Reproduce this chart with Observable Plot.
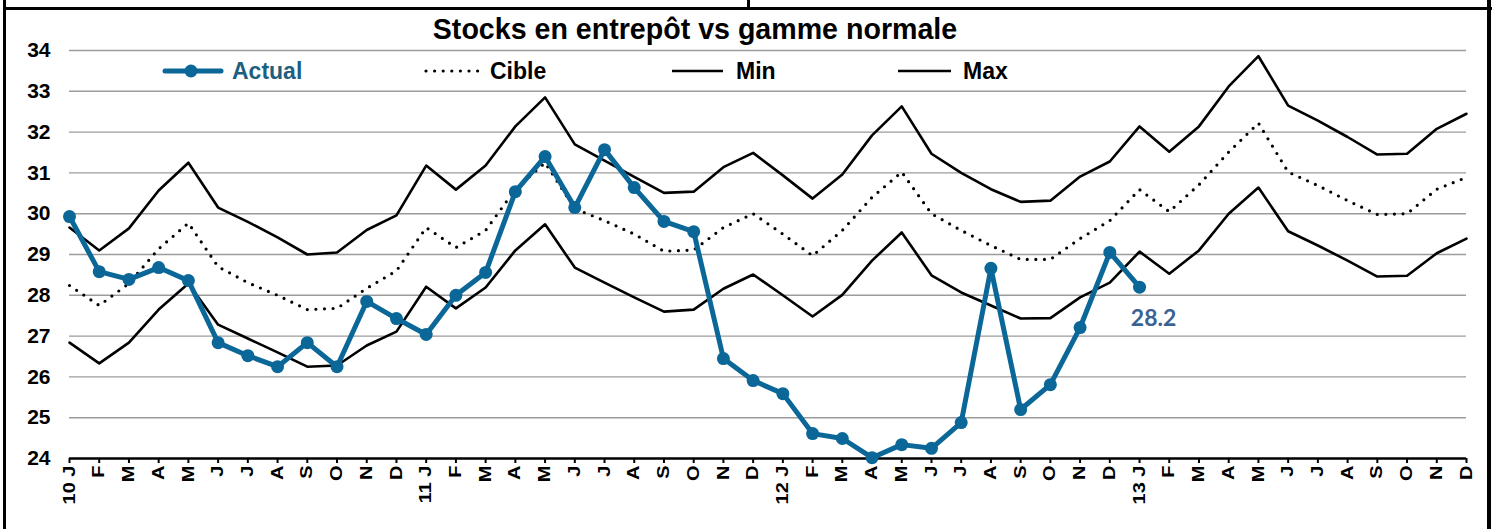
<!DOCTYPE html>
<html><head><meta charset="utf-8">
<script src="https://cdn.jsdelivr.net/npm/d3@7"></script>
<script src="https://cdn.jsdelivr.net/npm/@observablehq/plot@0.6"></script>
<style>
body{margin:0;background:#fff;font-family:"Liberation Sans",Arial,sans-serif;}
#wrap{position:relative;width:1494px;height:529px;overflow:hidden;background:#fff;}
#chart{position:absolute;left:0;top:0;}
.t{position:absolute;font-weight:bold;white-space:nowrap;line-height:1;}
.bar{position:absolute;background:#000;}
.sw{position:absolute;}
</style>
</head><body>
<div id="wrap">
  <div id="chart"></div>
  <div class="bar" style="left:3px;top:7px;width:1489px;height:3px"></div>
  <div class="bar" style="left:3px;top:0;width:3px;height:529px"></div>
  <div class="bar" style="left:1487px;top:0;width:4px;height:529px"></div>
  <div class="bar" style="left:747px;top:0;width:3px;height:8px"></div>
  <div class="t" id="title" style="left:0;width:1390px;text-align:center;top:15px;font-size:28.6px;color:#000">Stocks en entrepôt vs gamme normale</div>
  <svg class="sw" style="left:160px;top:60px" width="66" height="22"><line x1="5" y1="11" x2="61" y2="11" stroke="#0a6798" stroke-width="5" stroke-linecap="round"/><circle cx="31" cy="11" r="6.5" fill="#0a6798"/></svg>
  <div class="t" style="left:232px;top:60px;font-size:23px;color:#1d5f7f">Actual</div>
  <svg class="sw" style="left:420px;top:60px" width="62" height="22"><line x1="6" y1="11" x2="58" y2="11" stroke="#000" stroke-width="3.2" stroke-linecap="round" stroke-dasharray="0,8.6"/></svg>
  <div class="t" style="left:490px;top:60px;font-size:23px;color:#000">Cible</div>
  <svg class="sw" style="left:670px;top:60px" width="56" height="22"><line x1="2" y1="11" x2="53" y2="11" stroke="#000" stroke-width="2.6"/></svg>
  <div class="t" style="left:736px;top:60px;font-size:23px;color:#000">Min</div>
  <svg class="sw" style="left:896px;top:60px" width="58" height="22"><line x1="2" y1="11" x2="55" y2="11" stroke="#000" stroke-width="2.6"/></svg>
  <div class="t" style="left:963px;top:60px;font-size:23px;color:#000">Max</div>
</div>
<script>
const months = ["10 J","F","M","A","M","J","J","A","S","O","N","D",
  "11 J","F","M","A","M","J","J","A","S","O","N","D",
  "12 J","F","M","A","M","J","J","A","S","O","N","D",
  "13 J","F","M","A","M","J","J","A","S","O","N","D"];
const actual = [29.93,28.58,28.39,28.68,28.36,26.84,26.52,26.25,26.84,26.25,27.85,27.43,
  27.04,28.0,28.56,30.54,31.40,30.15,31.57,30.64,29.81,29.56,26.45,25.91,
  25.59,24.61,24.49,24.02,24.34,24.25,24.88,28.66,25.20,25.81,27.21,29.05,
  28.2];
const cible = [28.24,27.75,28.29,29.14,29.77,28.7,28.31,28.0,27.65,27.68,28.17,28.6,
  29.66,29.17,29.59,30.6,31.25,30.12,29.83,29.5,29.08,29.11,29.66,30.0,
  29.5,28.97,29.59,30.4,31.02,30.0,29.59,29.22,28.88,28.88,29.39,29.83,
  30.59,30.05,30.71,31.51,32.22,31.02,30.69,30.32,29.98,30.0,30.6,30.89];
const minV = [26.84,26.33,26.84,27.65,28.29,27.28,26.94,26.6,26.25,26.28,26.77,27.11,
  28.21,27.68,28.19,29.1,29.74,28.68,28.31,27.95,27.6,27.65,28.16,28.51,
  28.0,27.48,28.01,28.85,29.54,28.49,28.07,27.75,27.43,27.44,27.95,28.31,
  29.07,28.53,29.1,30.0,30.64,29.57,29.22,28.85,28.46,28.48,29.03,29.39];
const maxV = [29.66,29.10,29.64,30.57,31.25,30.15,29.8,29.42,29.0,29.05,29.6,29.96,
  31.18,30.59,31.18,32.14,32.85,31.7,31.3,30.9,30.51,30.54,31.14,31.49,
  30.94,30.37,30.96,31.92,32.63,31.47,31.0,30.6,30.29,30.32,30.91,31.28,
  32.14,31.52,32.14,33.12,33.86,32.65,32.28,31.88,31.45,31.47,32.08,32.45];
const yTicks = [24,25,26,27,28,29,30,31,32,33,34];
const lastLabel = "28.2";

const idx = d3.range(months.length);
const actualData = actual.map((v,i)=>({i, v}));
const lastPt = actualData[actualData.length-1];

const chart = Plot.plot({
  width: 1494, height: 529,
  marginLeft: 69, marginRight: 28, marginTop: 50, marginBottom: 71,
  style: {fontFamily: '"Liberation Sans", Arial, sans-serif', background: "transparent"},
  x: {type: "point", domain: idx, padding: 0},
  y: {domain: [24, 34]},
  marks: [
    Plot.gridY(yTicks.slice(1), {stroke: "#9c9c9c", strokeOpacity: 1, strokeWidth: 1.4}),
    Plot.axisY(yTicks, {tickSize: 0, tickPadding: 19, fontSize: 21, fontWeight: "bold", fill: "#000", label: null}),
    Plot.axisX(idx, {tickSize: 5, tickPadding: 2, tickRotate: -90, fontSize: 16, fontWeight: "bold",
      stroke: "#000", strokeWidth: 2, fill: "#000", tickFormat: i => months[i], label: null}),
    Plot.ruleY([24], {stroke: "#000", strokeWidth: 2.5}),
    Plot.line(idx, {x: i => i, y: i => maxV[i], stroke: "#000", strokeWidth: 2.6}),
    Plot.line(idx, {x: i => i, y: i => minV[i], stroke: "#000", strokeWidth: 2.6}),
    Plot.line(idx, {x: i => i, y: i => cible[i], stroke: "#000", strokeWidth: 3.2, strokeDasharray: "0,8.6", strokeLinecap: "round"}),
    Plot.line(actualData, {x: "i", y: "v", stroke: "#0a6798", strokeWidth: 5, strokeLinejoin: "round"}),
    Plot.dot(actualData, {x: "i", y: "v", r: 6.5, fill: "#0a6798", stroke: "none"}),
    Plot.text([lastPt], {x: "i", y: "v", text: () => lastLabel, dx: 14, dy: 31, fontSize: 23, fontWeight: "bold",
      fill: "#3a6394", fontFamily: "Lato, sans-serif"})
  ]
});
document.getElementById("chart").appendChild(chart);
// stretch rotated month labels along their reading direction as in the reference
chart.querySelectorAll('g[aria-label="x-axis tick label"] text').forEach(t => {
  const tr = t.getAttribute("transform");
  if (tr) t.setAttribute("transform", tr + " scale(1.25,1)");
});
</script>
</body></html>
